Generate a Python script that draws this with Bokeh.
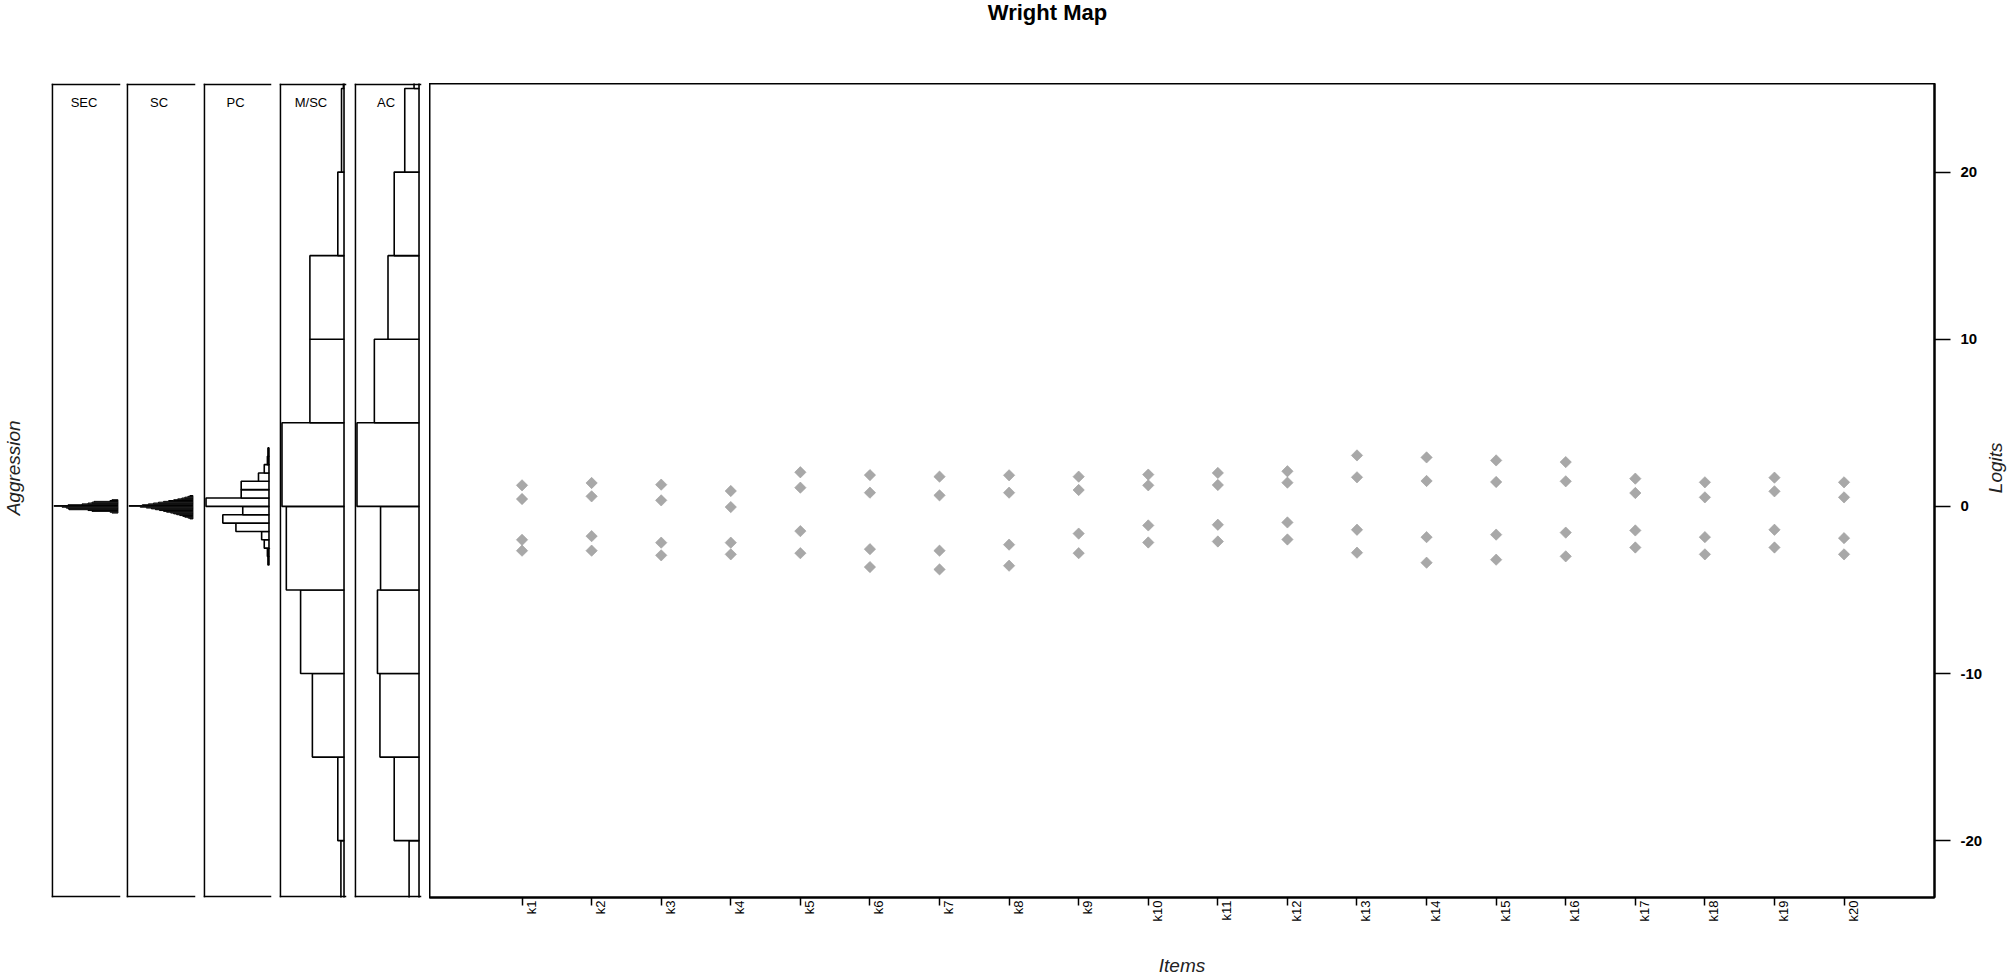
import math
from bokeh.plotting import figure
from bokeh.layouts import row, column
from bokeh.models import Range1d, FixedTicker, LinearAxis, Span, Label
from bokeh.embed import file_html
from bokeh.resources import INLINE

FONT = "Liberation Sans"

# ---------------- data ----------------
items = ["k1", "k2", "k3", "k4", "k5", "k6", "k7", "k8", "k9", "k10",
         "k11", "k12", "k13", "k14", "k15", "k16", "k17", "k18", "k19", "k20"]
thr1 = [1.26, 1.40, 1.30, 0.92, 2.04, 1.87, 1.78, 1.86, 1.78, 1.90,
        2.00, 2.10, 3.05, 2.93, 2.75, 2.65, 1.66, 1.44, 1.72, 1.44]
thr2 = [0.44, 0.60, 0.36, -0.04, 1.12, 0.82, 0.66, 0.82, 0.98, 1.26,
        1.28, 1.42, 1.74, 1.52, 1.46, 1.50, 0.80, 0.54, 0.90, 0.54]
thr3 = [-2.00, -1.78, -2.17, -2.17, -1.48, -2.56, -2.65, -2.29, -1.63, -1.14,
        -1.10, -0.96, -1.40, -1.84, -1.69, -1.57, -1.44, -1.84, -1.40, -1.90]
thr4 = [-2.65, -2.65, -2.93, -2.87, -2.80, -3.63, -3.77, -3.55, -2.80, -2.16,
        -2.10, -1.98, -2.77, -3.37, -3.19, -2.99, -2.46, -2.87, -2.46, -2.87]

panel_names = ["SEC", "SC", "PC", "M/SC", "AC"]

sec_start, sec_step = -0.40, 0.05
sec_counts = [6, 8, 26, 30, 49, 50, 52, 56, 64, 50, 36, 30, 26, 24, 8, 6]

sc_start, sc_step = -0.75, 0.05
sc_counts = [3, 5, 8, 10, 13, 16, 19, 22, 26, 29, 33, 37, 41, 46, 52,
             63, 50, 44, 39, 34, 29, 24, 19, 15, 11, 8, 5, 3]

pc_start, pc_step = -3.5, 0.5
pc_counts = [2, 3, 9, 14, 63, 88, 50, 120, 53, 53, 20, 9, 3, 2]

msc_start, msc_step = -25, 5
msc_counts = [5, 10, 51, 70, 93, 100, 55, 55, 10, 4, 1]

ac_start, ac_step = -25, 5
ac_counts = [16, 40, 63, 67, 62, 100, 72, 50, 40, 23, 8]

y_ticks = [-20, -10, 0, 10, 20]
y_tick_labels = ["-20", "-10", "0", "10", "20"]
Y_LO, Y_HI = -23.4, 25.3
X_LO, X_HI = -0.33, 21.3

title_text = "Wright Map"
x_title = "Items"
y_title_left = "Aggression"
y_title_right = "Logits"

# ---------------- layout constants (pixels) ----------------
W_TOTAL, H_TOTAL = 2008, 978
TITLE_H = 83            # strip above the panels
FRAME_H = 814           # plotting frame height
ROW_BOTTOM = 48         # border under the frames (ticks + item labels)
ROW_H = FRAME_H + ROW_BOTTOM
ITEMS_H = H_TOTAL - TITLE_H - ROW_H
LEFT_STRIP = 51
MAIN_LEFT = 429
MAIN_FRAME_W = 1505
RIGHT_STRIP = 22
MAIN_BR = W_TOTAL - MAIN_LEFT - MAIN_FRAME_W - RIGHT_STRIP
Y_PER_PX = (Y_HI - Y_LO) / FRAME_H

yr = Range1d(Y_LO, Y_HI)

COMMON = dict(output_backend="svg", toolbar_location=None)


def strip(w, h):
    """blank text strip whose data units are pixels from its top-left corner"""
    s = figure(width=w, height=h, x_range=Range1d(0, w), y_range=Range1d(h, 0),
               x_axis_location=None, y_axis_location=None,
               min_border_left=0, min_border_right=0, min_border_top=0, min_border_bottom=0,
               **COMMON)
    s.outline_line_color = None
    s.grid.visible = False
    return s


def hist_panel(name, start, step, counts, frame_w, border_r, lw):
    m = max(counts)
    p = figure(width=frame_w + border_r, height=ROW_H,
               x_range=Range1d(m * 1.04, -m * 0.04), y_range=yr,
               x_axis_location=None, y_axis_location=None,
               min_border_left=0, min_border_right=border_r,
               min_border_top=0, min_border_bottom=ROW_BOTTOM, **COMMON)
    p.outline_line_color = None
    p.grid.visible = False

    def x_at(px):           # px from frame left
        return m * 1.04 - px * 1.08 * m / frame_w

    bottoms = [start + step * i for i in range(len(counts))]
    tops = [start + step * (i + 1) for i in range(len(counts))]
    p.quad(left=0, right=counts, bottom=bottoms, top=tops,
           fill_color="white", line_color="black", line_width=lw)
    # "[" shaped panel border: left, top and bottom sides only
    for loc, dim in [(x_at(0.8), "height"), (Y_HI - 0.8 * Y_PER_PX, "width"),
                     (Y_LO + 0.8 * Y_PER_PX, "width")]:
        p.add_layout(Span(location=loc, dimension=dim, line_color="black", line_width=1.8))
    p.add_layout(Label(x=x_at(frame_w / 2 - 2), y=Y_HI - 19 * Y_PER_PX, text=name,
                       text_align="center", text_baseline="middle",
                       text_font=FONT, text_font_size="13px", text_color="black"))
    return p


# ---- title strip ----
t_strip = strip(W_TOTAL, TITLE_H)
t_strip.add_layout(Label(x=1047, y=12, text=title_text, text_align="center",
                         text_baseline="middle", text_font=FONT,
                         text_font_size="22px", text_font_style="bold", text_color="black"))

# ---- left strip (y title) ----
l_strip = strip(LEFT_STRIP, ROW_H)
l_strip.add_layout(Label(x=12.5, y=FRAME_H / 2, text=y_title_left, angle=math.pi / 2,
                         text_align="center", text_baseline="middle",
                         text_font=FONT, text_font_size="19px", text_font_style="italic",
                         text_color="#222222"))

p_sec = hist_panel("SEC", sec_start, sec_step, sec_counts, 69, 6, 1.0)
p_sc = hist_panel("SC", sc_start, sc_step, sc_counts, 69, 8, 1.0)
p_pc = hist_panel("PC", pc_start, pc_step, pc_counts, 68, 8, 1.6)
p_msc = hist_panel("M/SC", msc_start, msc_step, msc_counts, 67, 8, 1.6)
p_ac = hist_panel("AC", ac_start, ac_step, ac_counts, 67, 8, 1.6)

# ---------------- main Wright map panel ----------------
main = figure(width=MAIN_FRAME_W + MAIN_BR, height=ROW_H,
              x_range=Range1d(X_LO, X_HI), y_range=yr,
              x_axis_location="below", y_axis_location=None,
              min_border_left=0, min_border_right=MAIN_BR,
              min_border_top=0, min_border_bottom=ROW_BOTTOM, **COMMON)
main.grid.visible = False
main.outline_line_color = "black"
main.outline_line_width = 2

xs = [i + 1 for i in range(len(items))]
for thr in (thr1, thr2, thr3, thr4):
    main.scatter(x=xs, y=thr, marker="square", angle=math.pi / 4, size=8,
                 fill_color="#A8A8A8", line_color="#9C9C9C", line_width=0.6)

# tick marks at the items (labels of this axis are not drawn)
xa = main.xaxis[0]
xa.ticker = FixedTicker(ticks=xs)
xa.major_tick_out = 8
xa.major_tick_in = 0
xa.major_tick_line_width = 1.5
xa.major_tick_line_color = "black"
xa.minor_tick_line_color = None
xa.axis_line_color = "black"
xa.axis_line_width = 2
xa.major_label_standoff = 0
xa.major_label_text_color = None

# item labels (R draws the rotated labels a little to the right of each tick)
dx = 9 * (X_HI - X_LO) / MAIN_FRAME_W
lab_ticks = [x + dx for x in xs]
xb = LinearAxis(ticker=FixedTicker(ticks=lab_ticks))
xb.major_label_overrides = {t: lab for t, lab in zip(lab_ticks, items)}
xb.major_label_orientation = math.pi / 2
xb.major_tick_out = 0
xb.major_tick_in = 0
xb.major_tick_line_color = None
xb.minor_tick_line_color = None
xb.axis_line_color = None
xb.major_label_standoff = -5
xb.major_label_text_font = FONT
xb.major_label_text_font_size = "13px"
xb.major_label_text_color = "black"
main.add_layout(xb, "below")

ya = LinearAxis(ticker=FixedTicker(ticks=y_ticks))
ya.major_label_overrides = {t: lab for t, lab in zip(y_ticks, y_tick_labels)}
ya.major_tick_out = 16
ya.major_tick_in = 0
ya.major_tick_line_width = 1.5
ya.minor_tick_line_color = None
ya.axis_line_color = "black"
ya.axis_line_width = 2
ya.major_label_standoff = 10
ya.major_label_text_font = FONT
ya.major_label_text_font_size = "15px"
ya.major_label_text_font_style = "bold"
ya.major_label_text_color = "black"
main.add_layout(ya, "right")

# ---- right strip (y title on the logit scale) ----
r_strip = strip(RIGHT_STRIP, ROW_H)
r_strip.add_layout(Label(x=8.5, y=FRAME_H / 2, text=y_title_right, angle=math.pi / 2,
                         text_align="center", text_baseline="middle",
                         text_font=FONT, text_font_size="19px", text_font_style="italic",
                         text_color="#222222"))

# ---- bottom strip (x title) ----
b_strip = strip(W_TOTAL, ITEMS_H)
b_strip.add_layout(Label(x=MAIN_LEFT + MAIN_FRAME_W / 2, y=ITEMS_H / 2 + 3.5, text=x_title,
                         text_align="center", text_baseline="middle",
                         text_font=FONT, text_font_size="19px", text_font_style="italic",
                         text_color="#222222"))

middle = row(l_strip, p_sec, p_sc, p_pc, p_msc, p_ac, main, r_strip, spacing=0)
layout = column(t_strip, middle, b_strip, spacing=0)

with open("out.html", "w") as f:
    f.write(file_html(layout, INLINE, title="Wright Map"))
